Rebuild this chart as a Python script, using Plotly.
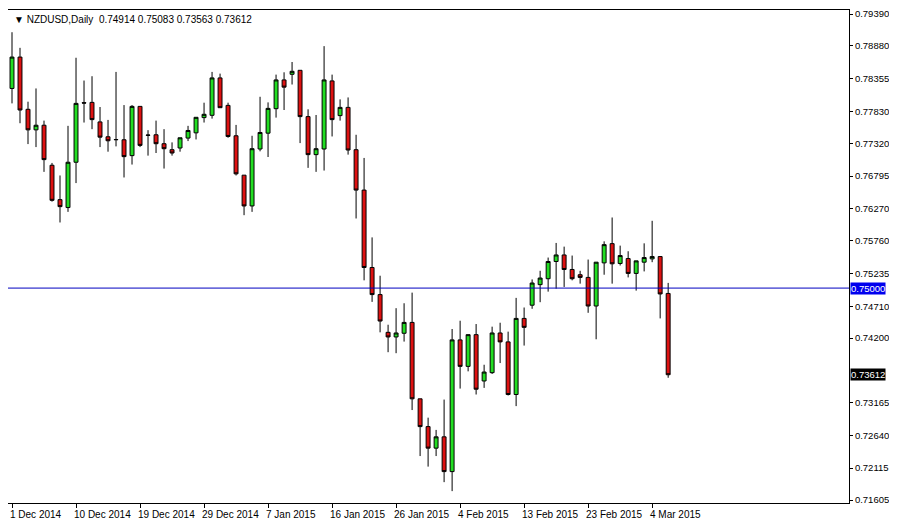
import plotly.graph_objects as go

opens = [0.78198,0.78701,0.77864,0.77535,0.77609,0.76968,0.76417,0.76290,0.77016,0.77970,
0.77975,0.77662,0.77424,0.77376,0.77376,0.77122,0.77911,0.77452,0.77456,0.77313,
0.77217,0.77244,0.77403,0.77487,0.77731,0.77768,0.78367,0.77927,0.77440,0.76809,
0.76316,0.77228,0.77482,0.77874,0.78335,0.78425,0.78489,0.77747,0.77138,0.77228,
0.78319,0.77763,0.77895,0.77217,0.76570,0.75330,0.74896,0.74291,0.74217,0.74276,
0.74450,0.73226,0.72781,0.72436,0.72617,0.72060,0.74170,0.73746,0.74254,0.73512,
0.73645,0.74281,0.74138,0.73295,0.74514,0.74726,0.75055,0.75150,0.75426,0.75531,
0.75298,0.75214,0.75171,0.74713,0.75404,0.75712,0.75394,0.75473,0.75235,0.75415,
0.75468,0.75505,0.74914]
highs = [0.79099,0.78849,0.77986,0.78198,0.77683,0.77005,0.76804,0.77599,0.78690,0.78325,
0.78394,0.77901,0.77694,0.78463,0.77932,0.77932,0.77911,0.77530,0.77683,0.77546,
0.77334,0.77408,0.77599,0.77736,0.77970,0.78463,0.78436,0.77970,0.77614,0.76809,
0.77440,0.78065,0.77975,0.78420,0.78457,0.78622,0.78489,0.77864,0.77773,0.78876,
0.78420,0.78023,0.78054,0.77456,0.77085,0.75812,0.75198,0.74413,0.74678,0.74757,
0.74927,0.73226,0.72924,0.72728,0.73214,0.74344,0.74477,0.74254,0.74424,0.73772,
0.74382,0.74445,0.74302,0.74843,0.74689,0.75139,0.75277,0.75489,0.75723,0.75664,
0.75521,0.75277,0.75457,0.75415,0.75749,0.76131,0.75680,0.75590,0.75436,0.75717,
0.76078,0.75505,0.75083]
lows = [0.77959,0.77641,0.77307,0.77259,0.76862,0.76385,0.76051,0.76221,0.76682,0.77652,
0.77546,0.77259,0.77185,0.77270,0.76772,0.76979,0.77259,0.77122,0.77164,0.76915,
0.77122,0.77185,0.77355,0.77381,0.77652,0.77715,0.77890,0.77408,0.76804,0.76168,
0.76221,0.77191,0.77100,0.77731,0.77853,0.78261,0.77323,0.76926,0.76862,0.76883,
0.77429,0.77683,0.77138,0.76115,0.75124,0.74779,0.74291,0.73973,0.73957,0.74143,
0.73046,0.72309,0.72140,0.72309,0.71891,0.71747,0.73390,0.73666,0.73295,0.73401,
0.73624,0.73799,0.73279,0.73109,0.74079,0.74668,0.74774,0.74943,0.74991,0.75018,
0.75124,0.75071,0.74604,0.74180,0.75214,0.75071,0.75362,0.75171,0.74959,0.75267,
0.75415,0.74514,0.73563]
closes = [0.78701,0.77853,0.77535,0.77609,0.77058,0.76406,0.76305,0.77016,0.77959,0.77964,
0.77699,0.77418,0.77360,0.77380,0.77106,0.77911,0.77286,0.77448,0.77313,0.77233,
0.77164,0.77408,0.77525,0.77736,0.77784,0.78367,0.77890,0.77429,0.76830,0.76316,
0.77233,0.77493,0.77879,0.78335,0.78219,0.78473,0.77747,0.77138,0.77233,0.78335,
0.77699,0.77895,0.77212,0.76570,0.75330,0.74896,0.74472,0.74217,0.74281,0.74450,
0.73226,0.72781,0.72436,0.72617,0.72060,0.74170,0.73746,0.74254,0.73380,0.73655,
0.74281,0.74138,0.73295,0.74514,0.74371,0.75081,0.75161,0.75426,0.75531,0.75298,
0.75150,0.75171,0.74713,0.75415,0.75696,0.75389,0.75521,0.75235,0.75436,0.75489,
0.75505,0.74906,0.73612]

date_ticks = [0, 8, 16, 24, 32, 40, 48, 56, 64, 72, 80]
date_labels = ["1 Dec 2014", "10 Dec 2014", "19 Dec 2014", "29 Dec 2014", "7 Jan 2015",
               "16 Jan 2015", "26 Jan 2015", "4 Feb 2015", "13 Feb 2015", "23 Feb 2015", "4 Mar 2015"]
price_ticks = [0.79390, 0.78880, 0.78355, 0.77830, 0.77320, 0.76795, 0.76270, 0.75760,
               0.75235, 0.74710, 0.74200, 0.73165, 0.72640, 0.72115, 0.71605]
level = 0.75000
title = "NZDUSD,Daily  0.74914 0.75083 0.73563 0.73612"

FONT = "Liberation Sans, Arial, sans-serif"
xs = list(range(len(opens)))
fig = go.Figure(go.Candlestick(
    x=xs, open=opens, high=highs, low=lows, close=closes,
    increasing=dict(fillcolor="#22dd22", line=dict(color="black", width=1)),
    decreasing=dict(fillcolor="#dd1111", line=dict(color="black", width=1)),
    whiskerwidth=0, hoverinfo="skip"))

fig.add_hline(y=level, line=dict(color="#0000c0", width=1))

fig.update_layout(
    width=889, height=521, margin=dict(l=0, r=48, t=2, b=26, autoexpand=False),
    paper_bgcolor="white", plot_bgcolor="white", showlegend=False,
    font=dict(family=FONT, size=10, color="black"),
    xaxis=dict(range=[-0.5, 104.6], rangeslider=dict(visible=False), automargin=False,
               tickvals=date_ticks, ticktext=[""] * len(date_ticks),
               ticks="outside", ticklen=4, tickcolor="black",
               showgrid=False, zeroline=False, showline=True, linecolor="black", mirror=True),
    yaxis=dict(range=[0.71557, 0.79455], side="right", tickvals=price_ticks, automargin=False,
               ticktext=[f"{v:.5f}" for v in price_ticks],
               ticks="outside", ticklen=3, tickcolor="black",
               tickfont=dict(family=FONT, size=9.5),
               showgrid=False, zeroline=False, showline=True, linecolor="black", mirror=True),
)
for t, lab in zip(date_ticks, date_labels):
    fig.add_annotation(x=t, y=0, xref="x", yref="paper", yanchor="top", xanchor="left",
                       text=lab, showarrow=False, yshift=-4, xshift=-4,
                       font=dict(family=FONT, size=10))
for val, bg in [(level, "#0000ee"), (closes[-1], "black")]:
    fig.add_annotation(x=1, xref="paper", y=val, yref="y", xanchor="left", text=f"{val:.5f}",
                       showarrow=False, bgcolor=bg, font=dict(color="white", family=FONT, size=9.5),
                       borderpad=0, xshift=1)
fig.add_annotation(x=0, y=1, xref="paper", yref="paper", xanchor="left", yanchor="top",
                   text="▼ " + title, showarrow=False, xshift=4, yshift=-2,
                   font=dict(family=FONT, size=10))
fig.write_html("out.html")
